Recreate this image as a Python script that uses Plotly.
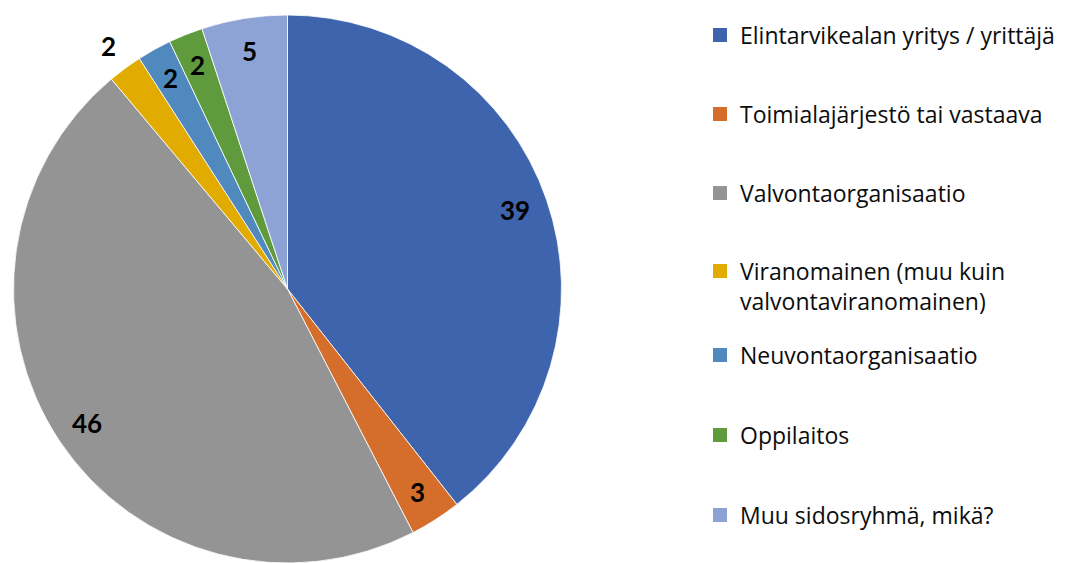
import numpy as np
import plotly.graph_objects as go

categories = [
    "Elintarvikealan yritys / yrittäjä",
    "Toimialajärjestö tai vastaava",
    "Valvontaorganisaatio",
    "Viranomainen (muu kuin<br>valvontaviranomainen)",
    "Neuvontaorganisaatio",
    "Oppilaitos",
    "Muu sidosryhmä, mikä?",
]
values = [39, 3, 46, 2, 2, 2, 5]
colors = ["#3E64AD", "#D56E2B", "#949494", "#E2AB00", "#4F89BE", "#5F9A3D", "#8EA3D5"]
label_outside = [False, False, False, True, False, False, False]

W, H = 1072, 563
cx_px, cy_px, R_px = 287.5, 289.0, 274.0

# vertical centres (px from top) of the legend entries
legend_centres = [35, 114, 193, 286, 355, 435, 515]

fig = go.Figure()
fig.add_trace(go.Pie(
    labels=[c.replace("<br>", " ") for c in categories],
    values=values,
    sort=False,
    direction="clockwise",
    rotation=0,
    marker=dict(colors=colors, line=dict(color="white", width=0.8)),
    textinfo="none",
    hoverinfo="label+value",
    showlegend=False,
    domain=dict(x=[(cx_px - R_px) / W, (cx_px + R_px) / W],
                y=[1 - (cy_px + R_px) / H, 1 - (cy_px - R_px) / H]),
))

# data labels computed from the values
total = float(sum(values))
cum = np.cumsum([0] + values[:-1])
for v, c0, out in zip(values, cum, label_outside):
    ang = np.deg2rad((c0 + v / 2.0) / total * 360.0)
    r = R_px * (1.10 if out else 0.88)
    px = cx_px + r * np.sin(ang)
    py = cy_px - r * np.cos(ang)
    fig.add_annotation(x=px / W, y=1 - py / H, xref="paper", yref="paper",
                       text=f"<b>{v}</b>", showarrow=False,
                       font=dict(family="Lato", size=26, color="black"),
                       xanchor="center", yanchor="middle")

# legend entries (one legend per category, placed like the original)
legend_layout = {}
for i, (cat, col, yc) in enumerate(zip(categories, colors, legend_centres)):
    lname = "legend" if i == 0 else f"legend{i + 1}"
    fig.add_trace(go.Scatter(
        x=[None], y=[None], mode="markers", name=cat,
        marker=dict(symbol="square", size=14, color=col),
        legend=lname, hoverinfo="skip",
    ))
    legend_layout[lname] = dict(
        x=700 / W, y=1 - yc / H, xanchor="left", yanchor="middle",
        font=dict(family="Open Sans", size=23, color="#0d0d0d"),
        valign="top", bgcolor="rgba(0,0,0,0)", borderwidth=0,
    )

fig.update_layout(
    width=W, height=H,
    margin=dict(l=0, r=0, t=0, b=0),
    paper_bgcolor="white", plot_bgcolor="white",
    showlegend=True,
    xaxis=dict(visible=False), yaxis=dict(visible=False),
    **legend_layout,
)

fig.write_html("out.html", config={"displayModeBar": False},
               post_script="document.body.style.margin='0';")
